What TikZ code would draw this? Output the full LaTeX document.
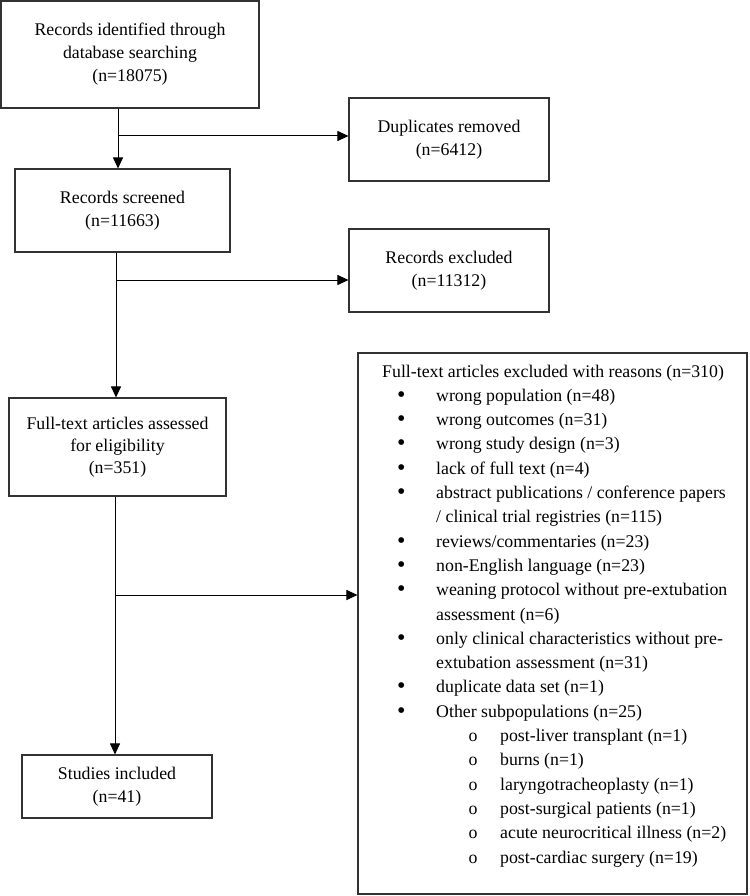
\documentclass[tikz,border=0pt]{standalone}
\usepackage{fontspec}
\usepackage{graphicx}
\setmainfont{Liberation Serif}
\usetikzlibrary{arrows.meta}
\definecolor{linec}{RGB}{50,50,50}
\tikzset{
  flowbox/.style={draw=linec, line width=1.1pt, align=center, inner sep=0pt,
    font=\fontsize{17.8}{23}\selectfont},
  arr/.style={draw=black, line width=1pt, -{Triangle[length=11pt,width=10pt]}},
  txt/.style={anchor=base west, inner sep=0pt, font=\fontsize{17.8}{23}\selectfont},
}
\newcommand{\bul}{\makebox[39pt][l]{\raisebox{-0.9pt}{\scalebox{1.35}{•}}}}
\newcommand{\subb}{\makebox[31.5pt][l]{o}}
\begin{document}
\begin{tikzpicture}[x=1pt,y=-1pt]
\useasboundingbox (0,0) rectangle (749,896);
\fill[white] (0,0) rectangle (749,896);

\node[flowbox, minimum width=258pt, minimum height=107pt] (b1) at (130,54.5)
  {Records identified through\\database searching\\(n=18075)};
\node[flowbox, minimum width=200pt, minimum height=83pt] (dup) at (449,139.5)
  {Duplicates removed\\(n=6412)};
\node[flowbox, minimum width=215pt, minimum height=83pt] (b2) at (122.5,210.5)
  {Records screened\\(n=11663)};
\node[flowbox, minimum width=200pt, minimum height=83pt] (excl) at (449,270.5)
  {Records excluded\\(n=11312)};
\node[flowbox, minimum width=217pt, minimum height=98pt, font=\fontsize{17.8}{22}\selectfont] (b3) at (117.5,447)
  {Full-text articles assessed\\for eligibility\\(n=351)};
\node[flowbox, minimum width=190pt, minimum height=63pt] (b4) at (117,786.5)
  {Studies included\\(n=41)};
\node[draw=linec, line width=1.1pt, minimum width=389pt, minimum height=541pt, inner sep=0pt] (rbox) at (552.5,623.5) {};

% junctions
\coordinate (j1) at (118,136);
\coordinate (j2) at (116,280);
\coordinate (j3) at (115,595);

\draw[arr] (b1.south -| j1) -- (b2.north -| j1);
\draw[arr] (j1) -- (j1 -| dup.west);
\draw[arr] (b2.south -| j2) -- (b3.north -| j2);
\draw[arr] (j2) -- (j2 -| excl.west);
\draw[arr] (b3.south -| j3) -- (b4.north -| j3);
\draw[arr] (j3) -- (j3 -| rbox.west);

% reasons text
\node[txt] (r0) at (382,377) {Full-text articles excluded with reasons (n=310)};
\node[txt] (r1) at (397,401.3) {\bul wrong population (n=48)};
\node[txt] (r2) at (397,425.6) {\bul wrong outcomes (n=31)};
\node[txt] (r3) at (397,449.9) {\bul wrong study design (n=3)};
\node[txt] (r4) at (397,474.2) {\bul lack of full text (n=4)};
\node[txt] (r5) at (397,498.5) {\bul abstract publications / conference papers};
\node[txt] (r6) at (436,522.8) {/ clinical trial registries (n=115)};
\node[txt] (r7) at (397,547.1) {\bul reviews/commentaries (n=23)};
\node[txt] (r8) at (397,571.4) {\bul non-English language (n=23)};
\node[txt] (r9) at (397,595.7) {\bul weaning protocol without pre-extubation};
\node[txt] (r10) at (436,620) {assessment (n=6)};
\node[txt] (r11) at (397,644.3) {\bul only clinical characteristics without pre-};
\node[txt] (r12) at (436,668.6) {extubation assessment (n=31)};
\node[txt] (r13) at (397,692.9) {\bul duplicate data set (n=1)};
\node[txt] (r14) at (397,717.2) {\bul Other subpopulations (n=25)};
\node[txt] (r15) at (468.5,741.5) {\subb post-liver transplant (n=1)};
\node[txt] (r16) at (468.5,765.8) {\subb burns (n=1)};
\node[txt] (r17) at (468.5,790.1) {\subb laryngotracheoplasty (n=1)};
\node[txt] (r18) at (468.5,814.4) {\subb post-surgical patients (n=1)};
\node[txt] (r19) at (468.5,838.7) {\subb acute neurocritical illness (n=2)};
\node[txt] (r20) at (468.5,863) {\subb post-cardiac surgery (n=19)};
\end{tikzpicture}
\end{document}
